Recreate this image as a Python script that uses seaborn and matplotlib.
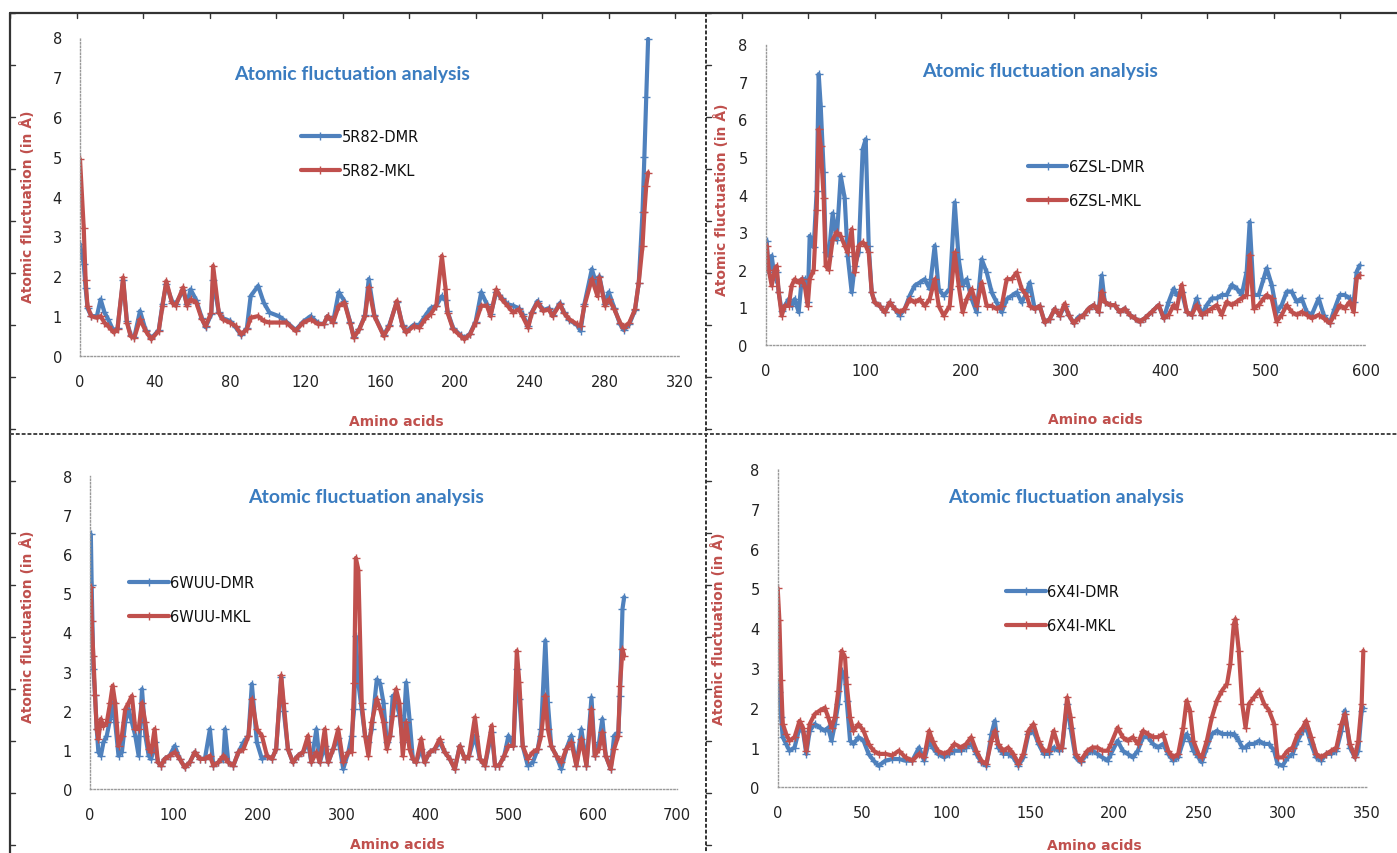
import numpy as np
import pandas as pd
import matplotlib
matplotlib.use("Agg")
import matplotlib.pyplot as plt
from matplotlib.lines import Line2D
import seaborn as sns

# ---------------- data ----------------
# Panel 1: 5R82
res_5r82 = [0, 2, 3, 4, 6, 9, 11, 13, 15, 18, 20, 23, 25, 27, 29, 32, 35, 38, 42, 44, 46, 49, 51, 55, 57, 59,
            62, 65, 67, 70, 71, 74, 76, 80, 83, 86, 89, 91, 95, 98, 101, 106, 110, 115, 119, 123, 127, 130,
            132, 135, 138, 141, 144, 146, 149, 152, 154, 157, 162, 165, 169, 172, 174, 178, 181, 184, 187,
            190, 193, 195, 196, 199, 203, 205, 208, 211, 214, 217, 219, 222, 225, 228, 231, 234, 236, 239,
            241, 244, 247, 250, 252, 256, 258, 261, 265, 267, 269, 273, 276, 277, 280, 282, 285, 288, 290,
            293, 296, 298, 300, 301, 302, 303]
dmr_5r82 = [2.8, 2.3, 1.7, 1.2, 1.0, 1.0, 1.42, 1.1, 0.92, 0.62, 0.7, 1.9, 0.88, 0.52, 0.48, 1.13, 0.65, 0.44,
            0.65, 1.3, 1.8, 1.38, 1.3, 1.65, 1.3, 1.67, 1.4, 0.95, 0.72, 1.05, 1.9, 1.1, 0.95, 0.88, 0.72,
            0.52, 0.7, 1.5, 1.76, 1.34, 1.09, 1.0, 0.86, 0.65, 0.86, 1.0, 0.82, 0.8, 1.0, 0.86, 1.6, 1.38,
            0.86, 0.48, 0.68, 1.02, 1.93, 1.02, 0.52, 0.78, 1.36, 0.78, 0.62, 0.78, 0.78, 1.0, 1.2, 1.26,
            1.5, 1.4, 1.12, 0.7, 0.52, 0.44, 0.56, 0.86, 1.6, 1.3, 1.05, 1.6, 1.45, 1.3, 1.26, 1.2, 1.05,
            0.75, 1.1, 1.38, 1.15, 1.2, 1.02, 1.33, 1.1, 0.9, 0.78, 0.63, 1.3, 2.18, 1.7, 2.0, 1.3, 1.6,
            1.2, 0.8, 0.65, 0.8, 1.15, 1.84, 3.6, 5.0, 6.5, 7.95]
mkl_5r82 = [4.94, 3.2, 1.9, 1.25, 1.0, 0.96, 1.0, 0.84, 0.75, 0.59, 0.67, 1.97, 0.84, 0.5, 0.46, 0.92, 0.63,
            0.42, 0.63, 1.26, 1.88, 1.34, 1.26, 1.72, 1.26, 1.42, 1.34, 0.92, 0.75, 1.09, 2.26, 1.09, 0.92,
            0.84, 0.75, 0.54, 0.67, 0.96, 1.0, 0.88, 0.84, 0.84, 0.84, 0.63, 0.84, 0.92, 0.8, 0.8, 1.0,
            0.84, 1.26, 1.34, 0.84, 0.46, 0.67, 1.0, 1.72, 1.0, 0.5, 0.75, 1.38, 0.75, 0.59, 0.75, 0.71,
            0.92, 1.05, 1.26, 2.51, 1.67, 1.09, 0.67, 0.5, 0.42, 0.54, 0.84, 1.26, 1.26, 1.0, 1.67, 1.42,
            1.26, 1.09, 1.17, 1.0, 0.71, 1.09, 1.34, 1.13, 1.17, 1.0, 1.3, 1.09, 0.92, 0.8, 0.75, 1.26,
            1.93, 1.5, 1.97, 1.26, 1.42, 1.17, 0.84, 0.71, 0.84, 1.17, 1.84, 2.76, 3.6, 4.27, 4.6]

# Panel 2: 6ZSL
res_6zsl = [1, 3, 6, 9, 11, 13, 16, 19, 23, 26, 29, 33, 36, 39, 42, 44, 48, 51, 53, 55, 58, 60, 63, 67, 71,
            75, 79, 82, 86, 89, 93, 97, 100, 103, 106, 109, 114, 119, 124, 129, 134, 139, 144, 149, 154,
            159, 164, 169, 173, 178, 184, 189, 193, 197, 201, 206, 211, 216, 221, 226, 231, 236, 241, 246,
            251, 256, 261, 264, 269, 274, 279, 284, 289, 294, 299, 303, 308, 313, 318, 323, 328, 333, 336,
            339, 344, 349, 354, 359, 364, 369, 374, 379, 386, 393, 398, 403, 408, 411, 416, 421, 426, 431,
            436, 441, 446, 451, 456, 461, 466, 471, 476, 481, 484, 488, 493, 498, 501, 506, 511, 516, 521,
            526, 531, 536, 541, 546, 553, 558, 564, 569, 574, 579, 584, 588, 591, 594]
dmr_6zsl = [2.77, 1.93, 2.37, 1.75, 1.93, 1.4, 0.9, 1.04, 1.22, 1.04, 1.22, 0.87, 1.75, 1.75, 1.13, 2.9,
            2.6, 4.1, 7.2, 6.35, 4.6, 2.46, 2.37, 3.5, 2.8, 4.5, 3.9, 2.37, 1.4, 2.1, 2.46, 5.2, 5.47,
            2.64, 1.4, 1.13, 1.04, 0.87, 1.13, 0.96, 0.78, 0.96, 1.31, 1.58, 1.66, 1.75, 1.49, 2.64, 1.49,
            1.31, 1.49, 3.79, 2.28, 1.58, 1.75, 1.22, 0.87, 2.28, 1.93, 1.4, 1.13, 0.87, 1.22, 1.31, 1.4,
            1.13, 1.4, 1.66, 0.96, 1.04, 0.6, 0.69, 0.96, 0.78, 1.04, 0.8, 0.58, 0.75, 0.8, 0.97, 1.06,
            0.88, 1.85, 1.15, 1.06, 1.06, 0.88, 0.97, 0.8, 0.71, 0.62, 0.71, 0.88, 1.06, 0.71, 1.15, 1.5,
            1.33, 1.42, 0.88, 0.8, 1.24, 0.8, 1.06, 1.24, 1.24, 1.33, 1.33, 1.6, 1.5, 1.33, 1.95, 3.27,
            1.33, 1.33, 1.77, 2.04, 1.6, 0.88, 1.06, 1.42, 1.42, 1.15, 1.24, 0.88, 0.8, 1.24, 0.8, 0.58,
            0.97, 1.33, 1.33, 1.24, 1.15, 1.95, 2.12]
mkl_6zsl = [2.64, 2.0, 1.58, 2.0, 2.1, 1.4, 0.78, 1.04, 1.04, 1.58, 1.75, 1.66, 1.75, 1.58, 1.04, 1.75,
            2.0, 3.6, 5.73, 5.3, 3.9, 2.1, 2.0, 2.8, 3.0, 2.9, 2.64, 2.46, 3.08, 1.93, 2.64, 2.73, 2.64,
            2.46, 1.4, 1.13, 1.04, 0.87, 1.13, 0.96, 0.87, 0.96, 1.22, 1.13, 1.22, 1.04, 1.22, 1.75, 1.04,
            0.78, 1.04, 2.46, 1.58, 0.87, 1.22, 1.49, 1.04, 1.66, 1.04, 1.04, 0.96, 1.04, 1.75, 1.75, 1.93,
            1.49, 1.31, 1.04, 0.96, 1.04, 0.6, 0.69, 0.96, 0.78, 1.1, 0.8, 0.58, 0.71, 0.8, 0.97, 1.06,
            0.88, 1.42, 1.15, 1.06, 1.06, 0.88, 0.97, 0.8, 0.71, 0.62, 0.71, 0.88, 1.06, 0.71, 0.8, 1.06,
            0.97, 1.6, 0.88, 0.8, 1.06, 0.8, 0.88, 0.97, 1.06, 0.8, 1.15, 1.06, 1.15, 1.24, 1.33, 2.39,
            0.97, 1.06, 1.24, 1.33, 1.24, 0.62, 0.8, 1.06, 0.88, 0.8, 0.88, 0.8, 0.71, 0.8, 0.71, 0.58,
            0.8, 1.06, 0.97, 1.15, 0.88, 1.77, 1.86]

# Panel 3: 6WUU
res_6wuu = [1, 2, 4, 6, 8, 10, 13, 16, 20, 24, 27, 30, 34, 38, 42, 46, 50, 54, 58, 62, 66, 70, 73, 77, 81,
            85, 89, 95, 101, 107, 113, 119, 125, 131, 137, 143, 147, 153, 159, 161, 165, 171, 177, 183,
            189, 193, 199, 205, 211, 217, 222, 228, 231, 236, 242, 248, 254, 260, 264, 270, 274, 280, 284,
            290, 296, 302, 308, 312, 315, 317, 320, 324, 328, 332, 336, 342, 346, 350, 354, 358, 361, 365,
            369, 373, 377, 381, 385, 389, 395, 399, 405, 411, 417, 423, 429, 435, 441, 447, 452, 459, 465,
            471, 479, 483, 488, 494, 499, 505, 509, 512, 516, 522, 528, 534, 538, 543, 546, 550, 556, 562,
            568, 574, 580, 586, 592, 598, 602, 607, 611, 615, 621, 625, 630, 632, 635, 637]
dmr_6wuu = [6.5, 5.2, 3.06, 2.4, 1.53, 0.94, 0.85, 1.19, 1.36, 1.79, 2.21, 1.7, 0.85, 0.94, 1.7, 2.04, 1.7,
            1.36, 0.85, 2.55, 1.36, 0.85, 0.77, 1.19, 0.68, 0.6, 0.77, 0.85, 1.1, 0.77, 0.55, 0.68, 0.94,
            0.77, 0.77, 1.53, 0.6, 0.68, 0.77, 1.53, 0.68, 0.6, 0.94, 1.19, 1.36, 2.68, 1.19, 0.77, 0.85,
            0.77, 1.02, 2.85, 2.0, 1.02, 0.68, 0.85, 0.94, 1.19, 0.68, 1.53, 0.68, 1.1, 0.68, 1.02, 1.3,
            0.51, 0.94, 1.36, 2.04, 3.9, 2.7, 2.04, 1.36, 1.2, 1.53, 2.8, 2.7, 2.2, 1.19, 1.36, 2.38, 2.21,
            1.9, 1.19, 2.72, 1.79, 0.77, 0.68, 1.02, 0.68, 0.94, 1.02, 1.19, 0.94, 0.77, 0.51, 1.1, 0.77,
            0.85, 1.36, 0.77, 0.6, 1.45, 0.6, 0.6, 0.85, 1.36, 1.1, 3.06, 2.3, 1.1, 0.6, 0.68, 1.02, 1.53,
            3.79, 2.21, 1.1, 0.85, 0.51, 1.02, 1.36, 0.6, 1.53, 0.6, 2.34, 0.85, 1.19, 1.79, 0.85, 0.51,
            1.36, 1.45, 2.38, 4.6, 4.9]
mkl_6wuu = [5.15, 4.3, 3.4, 2.4, 1.53, 1.28, 1.79, 1.6, 1.7, 2.2, 2.64, 2.2, 1.1, 1.36, 2.04, 2.2, 2.38,
            1.53, 1.53, 2.2, 1.7, 1.02, 0.94, 1.53, 0.68, 0.6, 0.77, 0.85, 0.94, 0.77, 0.55, 0.68, 0.94,
            0.77, 0.77, 0.85, 0.6, 0.68, 0.85, 0.8, 0.68, 0.6, 0.94, 1.02, 1.36, 2.3, 1.53, 1.36, 0.85,
            0.77, 1.02, 2.9, 2.2, 1.02, 0.68, 0.85, 0.94, 1.36, 0.68, 0.94, 0.68, 1.53, 0.68, 1.02, 1.53,
            0.68, 0.94, 0.94, 2.7, 5.9, 5.6, 2.2, 1.36, 0.85, 1.7, 2.3, 2.04, 1.7, 1.02, 1.36, 1.87, 2.55,
            2.2, 0.85, 1.7, 1.02, 0.77, 0.68, 1.28, 0.68, 0.94, 1.02, 1.28, 0.94, 0.77, 0.51, 1.1, 0.77,
            0.85, 1.83, 0.77, 0.6, 1.62, 0.6, 0.6, 0.85, 1.1, 1.1, 3.53, 2.72, 1.1, 0.77, 0.94, 1.02, 1.36,
            2.38, 1.53, 1.1, 0.85, 0.68, 1.02, 1.19, 0.6, 1.28, 0.6, 2.04, 0.85, 1.02, 1.45, 0.85, 0.51,
            1.02, 1.36, 2.64, 3.57, 3.4]

# Panel 4: 6X4I
res_6x4i = [0, 1, 2, 3, 5, 7, 10, 13, 15, 17, 19, 22, 25, 28, 30, 32, 34, 36, 38, 40, 41, 43, 45, 48, 51,
            54, 57, 60, 64, 68, 72, 76, 80, 84, 87, 90, 92, 95, 99, 102, 105, 109, 112, 115, 118, 121, 124,
            127, 129, 131, 134, 137, 140, 143, 146, 149, 152, 155, 158, 161, 164, 167, 169, 172, 174, 177,
            180, 184, 187, 190, 193, 196, 198, 202, 205, 208, 211, 214, 217, 220, 223, 226, 229, 232, 235,
            238, 241, 243, 245, 247, 250, 252, 255, 258, 261, 264, 267, 269, 271, 272, 274, 276, 278, 280,
            283, 286, 289, 292, 295, 297, 300, 303, 306, 309, 312, 314, 317, 320, 323, 326, 329, 332, 335,
            337, 340, 343, 345, 347, 348]
dmr_6x4i = [2.6, 2.4, 1.76, 1.26, 1.09, 0.92, 1.0, 1.5, 1.42, 0.84, 1.42, 1.59, 1.5, 1.42, 1.5, 1.17, 1.59,
            2.1, 2.93, 2.76, 2.18, 1.17, 1.09, 1.26, 1.17, 0.84, 0.67, 0.54, 0.67, 0.71, 0.71, 0.67, 0.67,
            1.0, 0.67, 1.17, 1.0, 0.84, 0.75, 0.84, 0.92, 0.92, 1.0, 1.09, 0.84, 0.63, 0.54, 1.34, 1.67,
            1.0, 0.84, 0.84, 0.75, 0.54, 0.75, 1.34, 1.42, 1.09, 0.84, 0.84, 1.0, 0.92, 1.0, 2.1, 1.5,
            0.75, 0.63, 0.84, 0.92, 0.84, 0.75, 0.67, 0.84, 1.17, 0.92, 0.84, 0.75, 0.92, 1.26, 1.26, 1.09,
            1.0, 1.09, 0.84, 0.67, 0.75, 1.17, 1.34, 1.17, 0.92, 0.75, 0.63, 1.0, 1.34, 1.42, 1.34, 1.34,
            1.34, 1.34, 1.3, 1.17, 1.0, 1.0, 1.09, 1.09, 1.17, 1.09, 1.09, 0.92, 0.59, 0.54, 0.75, 0.84,
            1.17, 1.42, 1.5, 1.09, 0.75, 0.67, 0.84, 0.84, 0.92, 1.42, 1.93, 1.0, 0.75, 0.92, 1.93, 2.0]
mkl_6x4i = [5.0, 4.2, 2.7, 1.6, 1.34, 1.17, 1.26, 1.67, 1.5, 0.92, 1.59, 1.84, 1.93, 2.0, 1.76, 1.5, 1.76,
            2.43, 3.43, 3.27, 2.6, 1.76, 1.42, 1.59, 1.42, 1.09, 0.92, 0.84, 0.84, 0.8, 0.92, 0.75, 0.67,
            0.84, 0.75, 1.42, 1.17, 0.92, 0.84, 0.92, 1.09, 1.0, 1.09, 1.26, 0.92, 0.67, 0.59, 1.17, 1.42,
            1.09, 0.92, 1.0, 0.84, 0.59, 0.84, 1.42, 1.59, 1.17, 0.92, 0.92, 1.42, 1.0, 1.0, 2.26, 1.76,
            0.84, 0.67, 0.92, 1.0, 1.0, 0.92, 0.92, 1.09, 1.5, 1.26, 1.17, 1.26, 1.09, 1.42, 1.34, 1.26,
            1.26, 1.34, 0.92, 0.75, 0.84, 1.5, 2.18, 1.93, 1.17, 0.84, 0.75, 1.17, 1.76, 2.18, 2.43, 2.6,
            3.1, 4.1, 4.23, 3.43, 2.1, 1.5, 2.1, 2.26, 2.43, 2.1, 1.93, 1.59, 0.75, 0.75, 0.92, 1.0, 1.34,
            1.5, 1.67, 1.26, 0.84, 0.75, 0.84, 0.92, 1.0, 1.59, 1.84, 1.09, 0.75, 1.17, 2.1, 3.43]

panel_names = ["5R82", "6ZSL", "6WUU", "6X4I"]
x_ticks = [list(range(0, 321, 40)), list(range(0, 601, 100)), list(range(0, 701, 100)), list(range(0, 351, 50))]
y_ticks = list(range(0, 9))
title_text = "Atomic fluctuation analysis"
ylabel_text = "Atomic fluctuation (in Å)"
xlabel_text = "Amino acids"

# ---------------- style ----------------
sns.set_theme(style="white")
plt.rcParams["font.family"] = ["DejaVu Sans"]

BLUE = "#4F81BD"
RED = "#C0504D"
W, H = 1397, 854
fig = plt.figure(figsize=(W / 100, H / 100), dpi=100)


def px_axes(x0, x1, y_top, y_bot):
    return fig.add_axes([x0 / W, 1 - y_bot / H, (x1 - x0) / W, (y_bot - y_top) / H])


axes = [
    px_axes(80, 680, 38, 357),
    px_axes(765.7, 1365.7, 45, 346),
    px_axes(90, 677, 476.7, 790),
    px_axes(777.7, 1366.7, 470, 788.3),
]

datasets = [
    (res_5r82, dmr_5r82, mkl_5r82),
    (res_6zsl, dmr_6zsl, mkl_6zsl),
    (res_6wuu, dmr_6wuu, mkl_6wuu),
    (res_6x4i, dmr_6x4i, mkl_6x4i),
]

title_pos = [(0.453, 0.885), (0.458, 0.912), (0.47, 0.934), (0.489, 0.915)]
legend_pos = [(0.368, 0.712), (0.437, 0.618), (0.067, 0.683), (0.388, 0.639)]
ylab_pos = [(-0.087, 0.47), (-0.073, 0.485), (-0.106, 0.52), (-0.101, 0.5)]
xlab_pos = [(0.528, -0.204), (0.549, -0.246), (0.523, -0.176), (0.537, -0.181)]

for i, ax in enumerate(axes):
    res, dmr, mkl = datasets[i]
    name = panel_names[i]
    df = pd.DataFrame({"res": res, "dmr": dmr, "mkl": mkl})
    sns.lineplot(data=df, x="res", y="dmr", ax=ax, color=BLUE, lw=3.0, estimator=None, sort=False,
                 marker="+", markersize=6, markeredgewidth=1.0, markeredgecolor=BLUE,
                 label=f"{name}-DMR")
    sns.lineplot(data=df, x="res", y="mkl", ax=ax, color=RED, lw=3.0, estimator=None, sort=False,
                 marker="+", markersize=6, markeredgewidth=1.0, markeredgecolor=RED,
                 label=f"{name}-MKL")
    ax.set_xlim(x_ticks[i][0], x_ticks[i][-1])
    ax.set_ylim(0, 8)
    ax.set_xticks(x_ticks[i])
    ax.set_yticks(y_ticks)
    ax.set_xlabel("")
    ax.set_ylabel("")
    ax.tick_params(axis="both", labelsize=10.5, colors="#222222", length=3, width=0.8, pad=10,
                   direction="out")
    ax.tick_params(axis="both", color="#aaaaaa")
    for s in ["top", "right"]:
        ax.spines[s].set_visible(False)
    for s in ["left", "bottom"]:
        ax.spines[s].set_color("#9a9a9a")
        ax.spines[s].set_linestyle((0, (1, 1.5)))
        ax.spines[s].set_linewidth(1.0)
    ax.set_facecolor("none")
    ax.text(*title_pos[i], title_text, transform=ax.transAxes, ha="center", va="center",
            color="#3A7CC0", fontsize=14, fontweight="bold", family=["Lato", "DejaVu Sans"])
    ax.text(*ylab_pos[i], ylabel_text, transform=ax.transAxes, ha="center", va="center",
            rotation=90, color=RED, fontsize=10, fontweight="bold")
    ax.text(*xlab_pos[i], xlabel_text, transform=ax.transAxes, ha="center", va="center",
            color=RED, fontsize=10, fontweight="bold")
    leg = ax.legend(loc="upper left", bbox_to_anchor=legend_pos[i], frameon=False, fontsize=10.5,
                    handlelength=2.7, handletextpad=0.1, labelspacing=1.3, borderpad=0,
                    borderaxespad=0)
    for t in leg.get_texts():
        t.set_color("#111111")

# ---------------- panel frame ----------------
def fline(x0, y0, x1, y1, **kw):
    fig.add_artist(Line2D([x0 / W, x1 / W], [1 - y0 / H, 1 - y1 / H], transform=fig.transFigure, **kw))


fline(10, 14, W, 14, color="#333333", lw=1.6)
fline(10, 14, 10, H, color="#333333", lw=1.6)
fline(706, 14, 706, H, color="#333333", lw=1.4, ls=(0, (2, 1)))
fline(10, 435, W, 435, color="#444444", lw=1.4, ls=(0, (2, 1)))
# small tick marks on the frame
for xx in np.arange(10, W, 66.5):
    fline(xx, 14, xx, 19, color="#333333", lw=1.0)
for yy in np.arange(14, H, 52):
    fline(10, yy, 15, yy, color="#333333", lw=1.0)
    fline(706, yy, 711, yy, color="#333333", lw=1.0)

fig.savefig("out.png", dpi=100, facecolor="white")
